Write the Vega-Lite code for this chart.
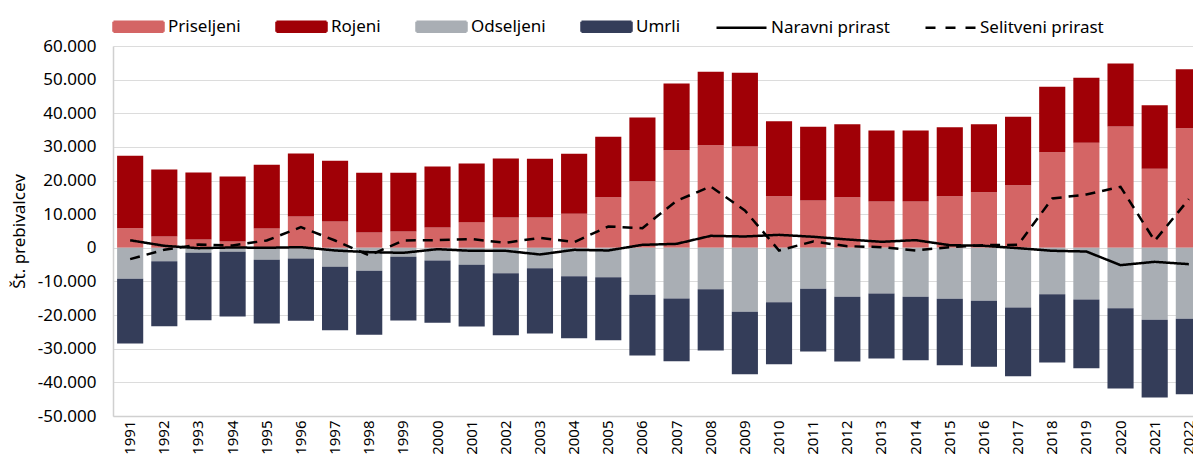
{
  "$schema": "https://vega.github.io/schema/vega-lite/v6.json",
  "width": 1080,
  "height": 370,
  "autosize": {"type": "none"},
  "padding": {"left": 113, "top": 46, "right": 0, "bottom": 43},
  "background": "white",
  "config": {
    "font": "Noto Sans",
    "view": {"stroke": null},
    "axis": {"labelOverlap": false},
    "axisY": {"labelOverlap": false, "tickCount": 12},
    "legend": {
      "orient": "none",
      "legendX": -1,
      "legendY": -46,
      "direction": "horizontal",
      "title": null,
      "padding": 0,
      "symbolType": "M-1,-0.2H1V0.2H-1Z",
      "symbolSize": 2500,
      "labelFontSize": 17,
      "labelColor": "#000000",
      "labelOffset": 3,
      "columnPadding": 30,
      "symbolOpacity": 1
    }
  },
  "data": {
    "values": [
      {"leto": "1991", "Priseljeni": 5850, "Rojeni": 21500, "Odseljeni": -9200, "Umrli": -19250, "Naravni prirast": 2250, "Selitveni prirast": -3350},
      {"leto": "1992", "Priseljeni": 3370, "Rojeni": 19920, "Odseljeni": -3960, "Umrli": -19330, "Naravni prirast": 590, "Selitveni prirast": -590},
      {"leto": "1993", "Priseljeni": 2480, "Rojeni": 19920, "Odseljeni": -1490, "Umrli": -20020, "Naravni prirast": -100, "Selitveni prirast": 990},
      {"leto": "1994", "Priseljeni": 1880, "Rojeni": 19330, "Odseljeni": -1190, "Umrli": -19230, "Naravni prirast": 100, "Selitveni prirast": 690},
      {"leto": "1995", "Priseljeni": 5750, "Rojeni": 18930, "Odseljeni": -3570, "Umrli": -18930, "Naravni prirast": 0, "Selitveni prirast": 2180},
      {"leto": "1996", "Priseljeni": 9320, "Rojeni": 18730, "Odseljeni": -3170, "Umrli": -18530, "Naravni prirast": 200, "Selitveni prirast": 6150},
      {"leto": "1997", "Priseljeni": 7830, "Rojeni": 18040, "Odseljeni": -5650, "Umrli": -18830, "Naravni prirast": -790, "Selitveni prirast": 2180},
      {"leto": "1998", "Priseljeni": 4560, "Rojeni": 17740, "Odseljeni": -6840, "Umrli": -19030, "Naravni prirast": -1290, "Selitveni prirast": -2280},
      {"leto": "1999", "Priseljeni": 4860, "Rojeni": 17440, "Odseljeni": -2680, "Umrli": -18930, "Naravni prirast": -1490, "Selitveni prirast": 2180},
      {"leto": "2000", "Priseljeni": 6050, "Rojeni": 18130, "Odseljeni": -3770, "Umrli": -18530, "Naravni prirast": -400, "Selitveni prirast": 2280},
      {"leto": "2001", "Priseljeni": 7630, "Rojeni": 17440, "Odseljeni": -5050, "Umrli": -18340, "Naravni prirast": -900, "Selitveni prirast": 2580},
      {"leto": "2002", "Priseljeni": 9020, "Rojeni": 17540, "Odseljeni": -7530, "Umrli": -18440, "Naravni prirast": -900, "Selitveni prirast": 1490},
      {"leto": "2003", "Priseljeni": 9020, "Rojeni": 17440, "Odseljeni": -6050, "Umrli": -19420, "Naravni prirast": -1980, "Selitveni prirast": 2970},
      {"leto": "2004", "Priseljeni": 10110, "Rojeni": 17840, "Odseljeni": -8420, "Umrli": -18440, "Naravni prirast": -600, "Selitveni prirast": 1690},
      {"leto": "2005", "Priseljeni": 15060, "Rojeni": 17940, "Odseljeni": -8720, "Umrli": -18730, "Naravni prirast": -790, "Selitveni prirast": 6340},
      {"leto": "2006", "Priseljeni": 19820, "Rojeni": 18930, "Odseljeni": -13970, "Umrli": -18040, "Naravni prirast": 890, "Selitveni prirast": 5850},
      {"leto": "2007", "Priseljeni": 29040, "Rojeni": 19820, "Odseljeni": -15060, "Umrli": -18640, "Naravni prirast": 1180, "Selitveni prirast": 13980},
      {"leto": "2008", "Priseljeni": 30530, "Rojeni": 21800, "Odseljeni": -12290, "Umrli": -18240, "Naravni prirast": 3560, "Selitveni prirast": 18240},
      {"leto": "2009", "Priseljeni": 30130, "Rojeni": 21900, "Odseljeni": -19030, "Umrli": -18530, "Naravni prirast": 3370, "Selitveni prirast": 11100},
      {"leto": "2010", "Priseljeni": 15360, "Rojeni": 22300, "Odseljeni": -16150, "Umrli": -18440, "Naravni prirast": 3860, "Selitveni prirast": -790},
      {"leto": "2011", "Priseljeni": 14070, "Rojeni": 21910, "Odseljeni": -12190, "Umrli": -18630, "Naravni prirast": 3280, "Selitveni prirast": 1880},
      {"leto": "2012", "Priseljeni": 15060, "Rojeni": 21710, "Odseljeni": -14570, "Umrli": -19230, "Naravni prirast": 2480, "Selitveni prirast": 490},
      {"leto": "2013", "Priseljeni": 13780, "Rojeni": 21110, "Odseljeni": -13580, "Umrli": -19320, "Naravni prirast": 1790, "Selitveni prirast": 200},
      {"leto": "2014", "Priseljeni": 13780, "Rojeni": 21110, "Odseljeni": -14570, "Umrli": -18830, "Naravni prirast": 2280, "Selitveni prirast": -790},
      {"leto": "2015", "Priseljeni": 15360, "Rojeni": 20520, "Odseljeni": -15160, "Umrli": -19730, "Naravni prirast": 790, "Selitveni prirast": 200},
      {"leto": "2016", "Priseljeni": 16550, "Rojeni": 20220, "Odseljeni": -15760, "Umrli": -19620, "Naravni prirast": 600, "Selitveni prirast": 790},
      {"leto": "2017", "Priseljeni": 18630, "Rojeni": 20320, "Odseljeni": -17740, "Umrli": -20420, "Naravni prirast": -100, "Selitveni prirast": 890},
      {"leto": "2018", "Priseljeni": 28440, "Rojeni": 19430, "Odseljeni": -13780, "Umrli": -20310, "Naravni prirast": -880, "Selitveni prirast": 14660},
      {"leto": "2019", "Priseljeni": 31220, "Rojeni": 19320, "Odseljeni": -15360, "Umrli": -20420, "Naravni prirast": -1100, "Selitveni prirast": 15860},
      {"leto": "2020", "Priseljeni": 36080, "Rojeni": 18730, "Odseljeni": -17940, "Umrli": -23880, "Naravni prirast": -5150, "Selitveni prirast": 18140},
      {"leto": "2021", "Priseljeni": 23490, "Rojeni": 18930, "Odseljeni": -21410, "Umrli": -23090, "Naravni prirast": -4160, "Selitveni prirast": 2080},
      {"leto": "2022", "Priseljeni": 35580, "Rojeni": 17540, "Odseljeni": -21110, "Umrli": -22400, "Naravni prirast": -4860, "Selitveni prirast": 14470}
    ]
  },
  "encoding": {
    "x": {
      "field": "leto",
      "type": "ordinal",
      "scale": {"range": [0, 1093], "paddingInner": 0.235, "paddingOuter": 0.12},
      "axis": {
        "title": null,
        "labelAngle": -90,
        "labelFontSize": 15,
        "labelPadding": 4,
        "labelColor": "#000000",
        "labelOverlap": false,
        "ticks": false,
        "domainColor": "#d0d0d0",
        "domainWidth": 1.5
      }
    },
    "y": {
      "field": "vrednost",
      "type": "quantitative",
      "scale": {"domain": [-50000, 60000], "nice": false, "zero": false},
      "axis": {
        "title": "Št. prebivalcev",
        "values": [-50000, -40000, -30000, -20000, -10000, 0, 10000, 20000, 30000, 40000, 50000, 60000],
        "labelExpr": "datum.value == 0 ? '0' : (datum.value < 0 ? '-' : '') + format(abs(datum.value) / 1000, 'd') + '.000'",
        "labelOverlap": false,
        "labelBound": false,
        "labelFlush": false,
        "grid": true,
        "gridColor": "#dcdcdc",
        "gridWidth": 1.2,
        "domain": true,
        "domainColor": "#d0d0d0",
        "domainWidth": 1.5,
        "ticks": false,
        "labelPadding": 17,
        "labelFontSize": 17,
        "labelColor": "#000000",
        "titleFontSize": 17,
        "titleFontWeight": "normal",
        "titleColor": "#000000",
        "titlePadding": 9
      }
    }
  },
  "layer": [
    {
      "transform": [{"fold": ["Priseljeni", "Rojeni", "Odseljeni", "Umrli"], "as": ["serija", "vrednost"]}],
      "mark": {"type": "bar"},
      "encoding": {
        "y": {
          "field": "vrednost",
          "type": "quantitative",
          "stack": "zero"
        },
        "color": {
          "field": "serija",
          "type": "nominal",
          "scale": {
            "domain": ["Priseljeni", "Rojeni", "Odseljeni", "Umrli", "Naravni prirast", "Selitveni prirast"],
            "range": ["#d46565", "#a00006", "#a9aeb4", "#343d59", "#000000", "#000000"]
          },
          "legend": {
            "encode": {
              "symbols": {
                "update": {
                  "shape": {"signal": "indexof(['Naravni prirast', 'Selitveni prirast'], datum.value) >= 0 ? 'M-1,0H1' : 'M-1,-0.2H1V0.2H-1Z'"},
                  "fill": {"signal": "indexof(['Naravni prirast', 'Selitveni prirast'], datum.value) >= 0 ? 'transparent' : scale('color', datum.value)"},
                  "stroke": {"signal": "indexof(['Naravni prirast', 'Selitveni prirast'], datum.value) >= 0 ? '#000000' : 'transparent'"},
                  "strokeWidth": {"value": 2.5},
                  "strokeDash": {"signal": "datum.value == 'Selitveni prirast' ? [10, 10] : [1, 0]"},
                  "opacity": {"value": 1}
                }
              }
            }
          }
        },
        "order": {"field": "serija", "sort": "ascending"}
      }
    },
    {
      "mark": {"type": "rule", "color": "#7a7a7a", "strokeWidth": 1.5},
      "encoding": {"y": {"datum": 0, "type": "quantitative"}, "x": null}
    },
    {
      "transform": [{"fold": ["Naravni prirast", "Selitveni prirast"], "as": ["serija", "vrednost"]}],
      "mark": {"type": "line", "strokeWidth": 2.5},
      "encoding": {
        "color": {"field": "serija", "type": "nominal"},
        "strokeDash": {
          "field": "serija",
          "type": "nominal",
          "scale": {"domain": ["Naravni prirast", "Selitveni prirast"], "range": [[1, 0], [10, 7]]},
          "legend": null
        }
      }
    }
  ]
}
